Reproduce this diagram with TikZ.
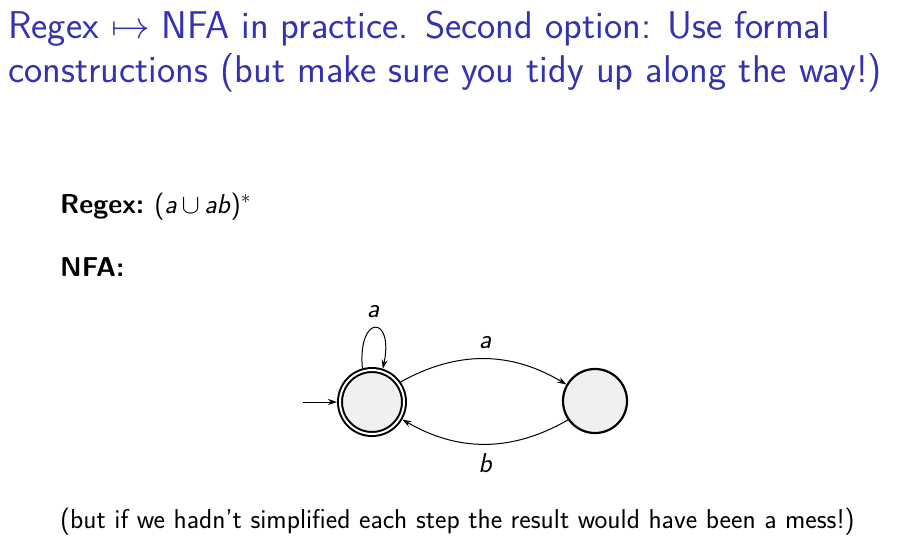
\documentclass[tikz,border=0pt]{standalone}
\usepackage{fix-cm}
\usepackage{fontspec}
\usetikzlibrary{arrows.meta}
\definecolor{titleblue}{rgb}{0.2,0.2,0.7}
\definecolor{statefill}{gray}{0.94}
\begin{document}
\begin{tikzpicture}[x=1pt,y=-1pt,
  titletext/.style={anchor=base west,inner sep=0pt,text=titleblue,font=\sffamily\fontsize{38.7}{44}\selectfont},
  bodytext/.style={anchor=base west,inner sep=0pt,font=\sffamily\fontsize{27.3}{33}\selectfont},
  lbl/.style={font=\sffamily\itshape\fontsize{27.3}{33}\selectfont,inner sep=0pt},
  st/.style={circle,draw,line width=2.2pt,fill=statefill,minimum size=64pt,inner sep=0pt,outer sep=1pt},
  acc/.style={circle,draw,double,double distance=2pt,line width=2pt,fill=statefill,minimum size=64pt,inner sep=0pt,outer sep=3pt},
  edge/.style={line width=1pt,-{Stealth[length=9pt,width=6pt]}}]
\useasboundingbox (0,0) rectangle (902,547);
\node[titletext] (t1) at (8,38) {Regex $\mapsto$ NFA in practice. Second option: Use formal};
\node[titletext] (t2) at (8,82) {constructions (but make sure you tidy up along the way!)};
\node[bodytext] (rx) at (60,213) {\bfseries Regex:\ \mdseries (\textit{a}\,$\cup$\,\textit{ab})$^*$};
\node[bodytext] (nfa) at (60,276) {\bfseries NFA:};
\node[acc] (q0) at (372,402) {};
\node[st] (q1) at (595,401) {};
\coordinate (init) at (303,402);
\draw[edge] (init) -- (q0);
\draw[edge] (q0.106) .. controls +(-95:55) and +(-78:55) .. (q0.72);
\node[lbl] (la) at (373,312) {a};
\draw[edge] (q0.35) to[bend left=30] (q1.150);
\node[lbl] (la2) at (485,343) {a};
\draw[edge] (q1.215) to[bend left=30] (q0.330);
\node[lbl] (lb) at (485,463) {b};
\node[bodytext] (bot) at (60,528) {(but if we hadn't simplified each step the result would have been a mess!)};
\end{tikzpicture}
\end{document}
